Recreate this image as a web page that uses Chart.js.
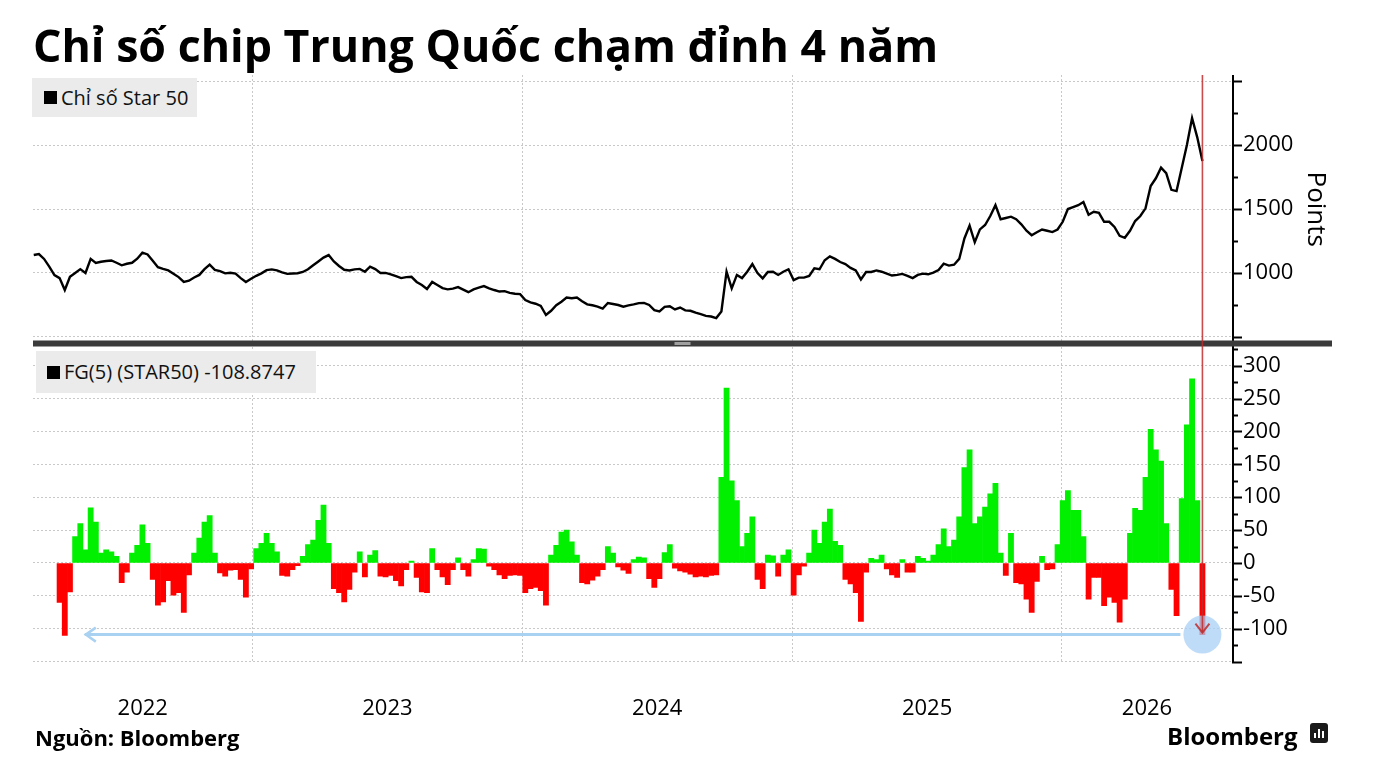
<!DOCTYPE html>
<html lang="vi">
<head>
<meta charset="utf-8">
<title>Chỉ số chip Trung Quốc chạm đỉnh 4 năm</title>
<script src="https://cdn.jsdelivr.net/npm/chart.js@4.4.1/dist/chart.umd.min.js"></script>
<style>
  html, body { margin:0; padding:0; background:#fff; }
  body { width:1375px; height:784px; overflow:hidden; position:relative; font-family:'Open Sans', sans-serif; color:#000; }
  #c { position:absolute; left:0; top:0; }
  .title { position:absolute; left:33px; top:19px; font-size:44px; line-height:52px; font-weight:700; white-space:nowrap; transform-origin:0 0; }
  .legend { position:absolute; background:#ebebeb; font-size:20px; line-height:24px; white-space:nowrap; display:flex; align-items:center; box-sizing:border-box; color:#111; }
  .legend .sq { width:13px; height:13px; background:#000; margin-right:4px; flex:none; }
  .src { position:absolute; left:35px; top:722px; font-size:22px; font-weight:700; line-height:30px; white-space:nowrap; }
  .brand { position:absolute; left:1167px; top:720px; font-size:24px; font-weight:700; line-height:32px; white-space:nowrap; }
  .logo { position:absolute; left:1310px; top:723px; width:18px; height:20px; background:#1a1a1a; border-radius:3px; }
  .logo i { position:absolute; bottom:5px; width:2px; background:#fff; }
</style>
</head>
<body>
<canvas id="c" width="1375" height="784"></canvas>
<div class="title" id="title">Chỉ số chip Trung Quốc chạm đỉnh 4 năm</div>
<div class="legend" style="left:32px;top:78px;width:165px;height:39px;padding-left:12px;"><span class="sq"></span>Chỉ số Star 50</div>
<div class="legend" style="left:36px;top:351px;width:280px;height:42px;padding-left:11px;"><span class="sq"></span>FG(5) (STAR50) -108.8747</div>
<div class="src">Nguồn: Bloomberg</div>
<div class="brand">Bloomberg</div>
<div class="logo"><i style="left:4px;height:5px"></i><i style="left:8px;height:9px"></i><i style="left:12px;height:7px"></i></div>
<script>
// ---------- DATA ----------
const startDate = '2022-03-11';   // first weekly observation
const stepDays = 7;               // weekly observations
const axisStart = '2022-03-10';
const axisEnd = '2026-08-19';
const yearLabels = ['2022', '2023', '2024', '2025', '2026'];

// Chỉ số Star 50 (points), weekly
const star50 = [
  1141,1148,1110,1050,984,960,867,970,1000,1030,
  1000,1110,1078,1088,1094,1098,1080,1060,1072,1080,
  1112,1159,1145,1095,1045,1032,1020,995,968,930,
  940,965,985,1030,1065,1025,1015,997,1002,995,
  960,930,955,978,997,1022,1028,1020,1005,993,
  996,998,1008,1029,1060,1090,1120,1140,1090,1055,
  1025,1020,1028,1032,1010,1049,1030,1000,1001,990,
  975,960,968,970,930,906,875,930,906,882,
  872,878,890,870,850,872,886,898,880,867,
  855,858,845,838,835,789,770,760,742,672,
  705,748,776,808,803,808,780,755,748,738,
  722,766,758,750,737,747,755,765,766,750,
  710,700,735,740,715,730,708,705,690,678,
  665,660,648,700,1010,880,985,960,1010,1070,
  1000,958,1008,1010,985,1010,1029,945,964,964,
  977,1036,1029,1100,1130,1110,1086,1070,1040,1020,
  950,1008,1008,1020,1010,995,980,985,993,978,
  960,985,995,990,1003,1023,1073,1058,1065,1110,
  1270,1370,1240,1341,1375,1445,1530,1420,1430,1440,
  1420,1380,1330,1295,1318,1340,1330,1320,1340,1400,
  1500,1515,1530,1555,1455,1478,1470,1400,1400,1360,
  1290,1275,1330,1406,1445,1505,1680,1740,1823,1780,
  1650,1640,1820,2000,2210,2060,1875
];

// FG(5) (STAR50), weekly
const fg5 = [
  null,null,null,null,null,-60,-110,-44,40,60,
  20,84,62,15,20,17,10,-30,-14,15,
  27,58,30,-25,-64,-59,-27,-49,-45,-75,
  -18,15,38,62,72,15,-15,-20,-11,-10,
  -25,-52,-9,22,30,45,30,17,-19,-20,
  -10,-4,10,28,35,65,88,30,-39,-45,
  -59,-40,-14,17,-21,12,19,-20,-21,-19,
  -27,-35,-10,3,-22,-44,-45,22,-10,-21,
  -33,-10,8,-10,-20,5,22,21,-5,-10,
  -18,-24,-19,-18,-19,-45,-39,-37,-42,-64,
  12,27,47,50,32,12,-30,-32,-26,-20,
  -10,25,15,-6,-11,-16,5,9,8,-24,
  -37,-24,16,28,-8,-12,-14,-17,-21,-20,
  -21,-19,-18,130,266,125,95,25,45,70,
  -25,-39,12,11,-20,12,20,-49,-18,-5,
  15,50,30,62,82,33,27,-25,-32,-45,
  -89,-14,7,5,12,-9,-18,-22,5,-14,
  -14,10,7,3,12,28,52,25,35,70,
  145,172,60,70,85,105,121,15,-19,45,
  -30,-32,-55,-75,-28,10,-10,-9,28,95,
  110,80,80,40,-55,-22,-22,-65,-52,-60,
  -90,-55,45,83,80,130,203,172,155,60,
  -40,-80,98,210,280,95,-108.8747
];

// ---------- HELPERS ----------
function toYear(d) {
  const y = d.getUTCFullYear();
  const s = Date.UTC(y, 0, 1), e = Date.UTC(y + 1, 0, 1);
  return y + (d.getTime() - s) / (e - s);
}
const DAY = 86400000;
const t0 = new Date(startDate + 'T00:00:00Z').getTime();
const xs = star50.map((_, i) => toYear(new Date(t0 + i * stepDays * DAY)));
const xMin = toYear(new Date(axisStart + 'T00:00:00Z'));
const xMax = toYear(new Date(axisEnd + 'T00:00:00Z'));

const lineData = xs.map((x, i) => ({ x, y: star50[i] }));
const barData = xs.map((x, i) => ({ x, y: fg5[i] }));
const barColors = fg5.map(v => v === null ? 'rgba(0,0,0,0)' : (v >= 0 ? '#00f000' : '#ff0000'));

const midTicks = new Set();
const GRID = '#c9c9c9';

Chart.defaults.font.family = "'Open Sans', sans-serif";
Chart.defaults.color = '#000';

const annot = {
  id: 'annot',
  afterDraw(chart) {
    const { ctx, chartArea: a, scales } = chart;
    const x = scales.x, y = scales.y, y2 = scales.y2;
    ctx.save();
    // right axis line and tick marks
    ctx.strokeStyle = '#000';
    ctx.lineWidth = 2;
    ctx.beginPath();
    ctx.moveTo(a.right + 1, a.top);
    ctx.lineTo(a.right + 1, a.bottom);
    ctx.stroke();
    [[y, 500], [y2, 50]].forEach(([sc, step]) => {
      sc.ticks.forEach(t => {
        const py = Math.round(sc.getPixelForValue(t.value)) + 0.5;
        if (py < sc.top - 1 || py > sc.bottom + 1) return;
        const len = (t.value % step === 0) ? 9 : 5;
        ctx.beginPath();
        ctx.moveTo(a.right, py);
        ctx.lineTo(a.right + 1 + len, py);
        ctx.stroke();
      });
    });
    // panel separator
    const sepY = y.bottom;
    const sepRight = a.right + 100;
    ctx.fillStyle = '#3b3b3b';
    ctx.fillRect(a.left, sepY - 3, sepRight - a.left, 6);
    ctx.fillStyle = '#a0a0a0';
    const hc = (a.left + sepRight) / 2;
    ctx.fillRect(hc - 8, sepY - 1.5, 16, 3);
    // highlight of the last value
    const lastX = x.getPixelForValue(xs[xs.length - 1]);
    const lastY = y2.getPixelForValue(fg5[fg5.length - 1]);
    const r = 19;
    // blue reference line back to the earlier low
    let minIdx = -1;
    fg5.forEach((v, i) => { if (v !== null && i < fg5.length - 1 && (minIdx < 0 || v < fg5[minIdx])) minIdx = i; });
    const startX = x.getPixelForValue(xs[minIdx]) + 20;
    ctx.strokeStyle = '#a9d1f1';
    ctx.lineWidth = 3;
    ctx.beginPath();
    ctx.moveTo(startX, lastY);
    ctx.lineTo(lastX - r - 3, lastY);
    ctx.stroke();
    ctx.lineWidth = 2.5;
    ctx.beginPath();
    ctx.moveTo(startX + 11, lastY - 7);
    ctx.lineTo(startX + 1, lastY);
    ctx.lineTo(startX + 11, lastY + 7);
    ctx.stroke();
    // circle
    ctx.fillStyle = 'rgba(168,208,245,0.75)';
    ctx.beginPath();
    ctx.arc(lastX, lastY, r, 0, Math.PI * 2);
    ctx.fill();
    // red vertical arrow
    ctx.strokeStyle = 'rgba(190,45,45,0.85)';
    ctx.lineWidth = 1.6;
    ctx.beginPath();
    ctx.moveTo(lastX, a.top);
    ctx.lineTo(lastX, lastY - 2);
    ctx.stroke();
    ctx.lineWidth = 2;
    ctx.beginPath();
    ctx.moveTo(lastX - 7, lastY - 11);
    ctx.lineTo(lastX, lastY - 2);
    ctx.lineTo(lastX + 7, lastY - 11);
    ctx.stroke();
    ctx.restore();
  }
};

new Chart(document.getElementById('c'), {
  data: {
    datasets: [
      {
        type: 'line', label: 'Chỉ số Star 50', data: lineData,
        xAxisID: 'x', yAxisID: 'y',
        borderColor: '#000', borderWidth: 2.4, pointRadius: 0, tension: 0, order: 1
      },
      {
        type: 'bar', label: 'FG(5) (STAR50)', data: barData,
        xAxisID: 'x', yAxisID: 'y2',
        backgroundColor: barColors, borderWidth: 0,
        barPercentage: 1, categoryPercentage: 1, order: 2
      }
    ]
  },
  options: {
    responsive: false,
    animation: false,
    layout: { padding: { left: 33, top: 75, right: 28, bottom: 0 } },
    plugins: { legend: { display: false }, tooltip: { enabled: false } },
    scales: {
      x: {
        type: 'linear', position: 'bottom', min: xMin, max: xMax, offset: false,
        afterBuildTicks(sc) {
          const ticks = [];
          midTicks.clear();
          yearLabels.forEach(lbl => {
            const yr = +lbl;
            if (yr > xMin && yr < xMax) ticks.push({ value: yr });
            const lo = Math.max(yr, xMin), hi = Math.min(yr + 1, xMax);
            const mid = (lo + hi) / 2;
            midTicks.add(mid);
            ticks.push({ value: mid });
          });
          ticks.sort((p, q) => p.value - q.value);
          sc.ticks = ticks;
        },
        afterFit(sc) { sc.height = 122; },
        grid: {
          offset: false,
          color: c => (c.tick && midTicks.has(c.tick.value)) ? 'rgba(0,0,0,0)' : GRID,
          drawTicks: false, lineWidth: 1
        },
        border: { display: false, dash: [2, 2] },
        ticks: {
          padding: 34, autoSkip: false, maxRotation: 0, color: '#000',
          font: { size: 22 },
          callback(v) { return midTicks.has(v) ? String(Math.floor(v)) : ''; }
        }
      },
      y: {
        type: 'linear', position: 'right', stack: 'panels', stackWeight: 268.5,
        min: 449.2, max: 2546.9,
        afterBuildTicks(sc) {
          const t = [];
          for (let v = 500; v <= 2500; v += 250) t.push({ value: v });
          sc.ticks = t;
        },
        afterFit(sc) { sc.width = 115; },
        grid: { color: c => (c.tick && c.tick.value % 500 === 0) ? GRID : 'rgba(0,0,0,0)', drawTicks: false, lineWidth: 1 },
        border: { display: false, dash: [2, 2] },
        ticks: {
          padding: 11, color: '#000', font: { size: 22 }, autoSkip: false,
          callback(v) { return [1000, 1500, 2000].includes(v) ? String(v) : ''; }
        },
        title: { display: true, text: 'Points', color: '#000', font: { size: 26 }, padding: { top: 16, bottom: 0 } }
      },
      y2: {
        type: 'linear', position: 'right', stack: 'panels', stackWeight: 318.5,
        min: -150.5, max: 333.6,
        afterBuildTicks(sc) {
          const t = [];
          for (let v = -150; v <= 325; v += 25) t.push({ value: v });
          sc.ticks = t;
        },
        afterFit(sc) { sc.width = 115; },
        grid: { color: c => (c.tick && c.tick.value % 50 === 0) ? GRID : 'rgba(0,0,0,0)', drawTicks: false, lineWidth: 1 },
        border: { display: false, dash: [2, 2] },
        ticks: {
          padding: 11, color: '#000', font: { size: 22 }, autoSkip: false,
          callback(v) { return (v % 50 === 0 && v >= -100 && v <= 300) ? String(v) : ''; }
        }
      }
    }
  },
  plugins: [annot]
});

// fit title width to the reference line length
const tEl = document.getElementById('title');
const w = tEl.getBoundingClientRect().width;
if (w > 0) tEl.style.transform = 'scaleX(' + (905 / w).toFixed(4) + ')';
</script>
</body>
</html>
